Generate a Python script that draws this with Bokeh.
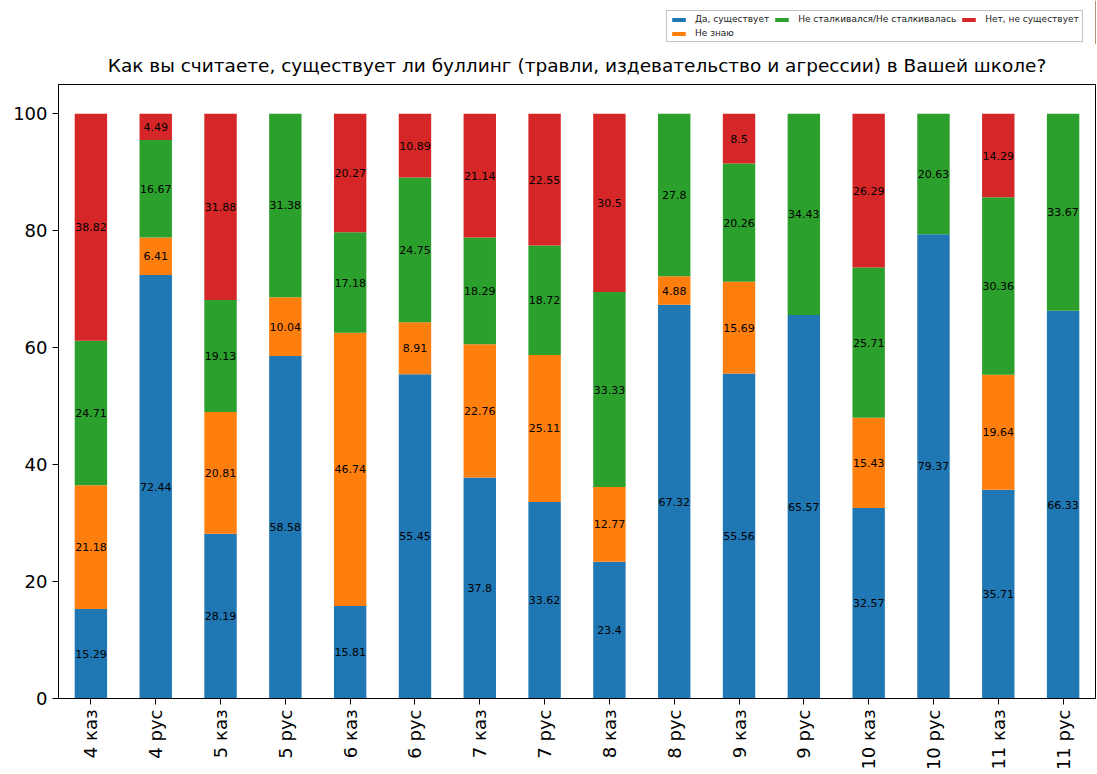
from math import pi
from bokeh.plotting import figure
from bokeh.layouts import column
from bokeh.models import ColumnDataSource, FactorRange, Legend, LegendItem, FixedTicker, Title
from bokeh.core.properties import value
from bokeh.embed import file_html
from bokeh.resources import INLINE

classes = ["4 каз", "4 рус", "5 каз", "5 рус", "6 каз", "6 рус", "7 каз", "7 рус",
           "8 каз", "8 рус", "9 каз", "9 рус", "10 каз", "10 рус", "11 каз", "11 рус"]
yes = [15.29, 72.44, 28.19, 58.58, 15.81, 55.45, 37.8, 33.62, 23.4, 67.32, 55.56, 65.57, 32.57, 79.37, 35.71, 66.33]
dont_know = [21.18, 6.41, 20.81, 10.04, 46.74, 8.91, 22.76, 25.11, 12.77, 4.88, 15.69, 0, 15.43, 0, 19.64, 0]
not_met = [24.71, 16.67, 19.13, 31.38, 17.18, 24.75, 18.29, 18.72, 33.33, 27.8, 20.26, 34.43, 25.71, 20.63, 30.36, 33.67]
no = [38.82, 4.49, 31.88, 0, 20.27, 10.89, 21.14, 22.55, 30.5, 0, 8.5, 0, 26.29, 0, 14.29, 0]

series_names = ["Да, существует", "Не знаю", "Не сталкивался/Не сталкивалась", "Нет, не существует"]
colors = ["#1f77b4", "#ff7f0e", "#2ca02c", "#d62728"]
title_text = "Как вы считаете, существует ли буллинг (травли, издевательство и агрессии) в Вашей школе?"
y_ticks = [0, 20, 40, 60, 80, 100]

FONT = "DejaVu Sans"
keys = ["yes", "dont_know", "not_met", "no"]
series = [yes, dont_know, not_met, no]

src = ColumnDataSource(dict(cls=classes, yes=yes, dont_know=dont_know, not_met=not_met, no=no))

# ---------------- legend strip ----------------
lf = figure(width=1097, height=44, x_range=(0, 1), y_range=(0, 1), output_backend="svg",
            toolbar_location=None, min_border=0, outline_line_color=None,
            background_fill_color="white", border_fill_color="white")
lf.axis.visible = False
lf.grid.visible = False
# swatch renderers sit outside the visible range; only their legend entries show
sw = [lf.vbar(x=[5], top=[1], width=0.1, color=c, line_color=None) for c in colors]
blank = lf.scatter(x=[5], y=[5], fill_alpha=0, line_alpha=0)
legend = Legend(items=[
    LegendItem(label=series_names[0], renderers=[sw[0]]),
    LegendItem(label=series_names[1], renderers=[sw[1]]),
    LegendItem(label=series_names[2], renderers=[sw[2]]),
    LegendItem(label=" ", renderers=[blank]),
    LegendItem(label=series_names[3], renderers=[sw[3]]),
], orientation="vertical", ncols=3, location=(608, 2))
legend.label_text_font = FONT
legend.label_text_font_size = "9px"
legend.label_text_color = "#222222"
legend.glyph_width = 17
legend.glyph_height = 5
legend.label_height = 8
legend.label_standoff = 8
legend.spacing = 4
legend.padding = 3
legend.margin = 0
legend.border_line_color = "#888888"
legend.border_line_width = 1.5
legend.background_fill_color = "white"
lf.add_layout(legend)

# ---------------- main chart ----------------
p = figure(x_range=FactorRange(*classes), y_range=(0, 105), title=None,
           width=1097, height=730, output_backend="svg", toolbar_location=None,
           min_border_left=58, min_border_right=2, min_border_top=37, min_border_bottom=76,
           background_fill_color="white", border_fill_color="white")

rs = p.vbar_stack(keys, x="cls", width=0.5, color=colors, line_color=None, source=src)

lx, ly, lt = [], [], []
for i, c in enumerate(classes):
    base = 0.0
    for s in series:
        v = s[i]
        if v > 0:
            lx.append(c)
            ly.append(base + v / 2)
            lt.append(str(v))
        base += v
lsrc = ColumnDataSource(dict(x=lx, y=ly, t=lt))
p.text(x="x", y="y", text="t", source=lsrc, text_align="center", text_baseline="middle",
       text_font=value(FONT), text_font_size="11px", text_color="black")

title = Title(text=title_text, align="center", text_font=FONT, text_font_size="18.5px",
              text_font_style="normal", text_color="black", standoff=17)
p.add_layout(title, "above")

p.xgrid.grid_line_color = None
p.ygrid.grid_line_color = None
p.outline_line_color = "black"
p.outline_line_width = 1

p.yaxis.ticker = FixedTicker(ticks=y_ticks)
for ax in (p.xaxis[0], p.yaxis[0]):
    ax.axis_line_color = "black"
    ax.major_tick_line_color = "black"
    ax.major_tick_out = 6
    ax.major_tick_in = 0
    ax.minor_tick_line_color = None
    ax.major_label_text_font = FONT
    ax.major_label_text_font_size = "18px"
    ax.major_label_text_color = "black"
    ax.major_label_standoff = 5
p.xaxis.major_label_orientation = pi / 2

layout = column(lf, p, spacing=0)
open("out.html", "w").write(file_html(layout, INLINE))
